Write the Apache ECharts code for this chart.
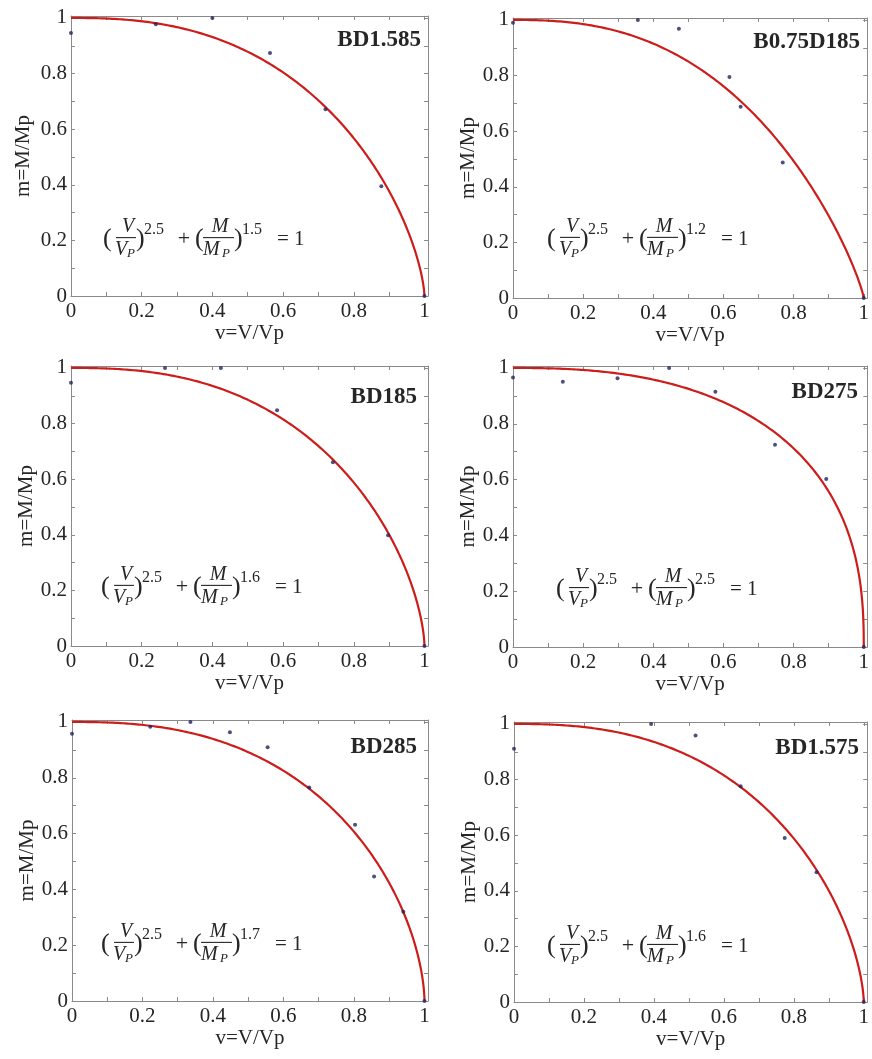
<!DOCTYPE html>
<html>
<head>
<meta charset="utf-8">
<script src="https://cdn.jsdelivr.net/npm/echarts@6/dist/echarts.min.js"></script>
<style>
  html, body { margin: 0; padding: 0; background: #ffffff; }
  #chart { width: 872px; height: 1059px; }
</style>
</head>
<body>
<div id="chart"></div>
<script>
// ---- Data ---------------------------------------------------------------
const panelTitles = ['BD1.585', 'B0.75D185', 'BD185', 'BD275', 'BD285', 'BD1.575'];

// Interaction equation (V/Vp)^a + (M/Mp)^b = 1, exponents as printed in each panel
const vExponents = [2.5, 2.5, 2.5, 2.5, 2.5, 2.5];
const mExponents = [1.5, 1.2, 1.6, 2.5, 1.7, 1.6];

// Test points (v = V/Vp, m = M/Mp)
const vTestBD1585 = [0, 0.24, 0.40, 0.563, 0.72, 0.878, 1.0];
const mTestBD1585 = [0.946, 0.977, 1.0, 0.874, 0.672, 0.395, 0];

const vTestB075D185 = [0, 0.356, 0.473, 0.617, 0.649, 0.769, 1.0];
const mTestB075D185 = [0.99, 1.0, 0.968, 0.795, 0.688, 0.487, 0];

const vTestBD185 = [0, 0.266, 0.424, 0.583, 0.741, 0.897, 1.0];
const mTestBD185 = [0.947, 1.0, 1.0, 0.848, 0.661, 0.398, 0];

const vTestBD275 = [0, 0.142, 0.298, 0.445, 0.577, 0.747, 0.893, 1.0];
const mTestBD275 = [0.966, 0.951, 0.963, 1.0, 0.915, 0.725, 0.602, 0];

const vTestBD285 = [0, 0.222, 0.336, 0.448, 0.555, 0.673, 0.803, 0.857, 0.940, 1.0];
const mTestBD285 = [0.958, 0.983, 1.0, 0.963, 0.909, 0.765, 0.632, 0.446, 0.320, 0];

const vTestBD1575 = [0, 0.392, 0.519, 0.648, 0.774, 0.865, 1.0];
const mTestBD1575 = [0.911, 1.0, 0.958, 0.776, 0.590, 0.467, 0];

const vTests = [vTestBD1585, vTestB075D185, vTestBD185, vTestBD275, vTestBD285, vTestBD1575];
const mTests = [mTestBD1585, mTestB075D185, mTestBD185, mTestBD275, mTestBD285, mTestBD1575];

const xTickLabels = ['0', '0.2', '0.4', '0.6', '0.8', '1'];
const yTickLabels = ['0', '0.2', '0.4', '0.6', '0.8', '1'];

const xAxisName = 'v=V/Vp';
const yAxisName = 'm=M/Mp';

// ---- Layout & style -----------------------------------------------------
const XMAX = 1.01;
const YMAX = 1.007;
const frameColor = '#8a8a8a';
const ink = '#262626';
const serif = 'Liberation Serif';

const grids = [
  { left: 71,  top: 16,  width: 357, height: 280 },
  { left: 513, top: 18,  width: 356, height: 280 },
  { left: 71,  top: 366, width: 357, height: 280 },
  { left: 513, top: 366, width: 356, height: 281 },
  { left: 72,  top: 720, width: 356, height: 281 },
  { left: 514, top: 722, width: 355, height: 280 }
];
const yNameGaps = [37, 32, 31, 32, 33, 32];
const xNameGaps = [26, 24.5, 25, 24, 26, 25];
const titleInsetRight = [7, 9, 11, 11, 11, 10];
const titleOffsetTop = [24, 24, 31, 26, 27, 26];
const formulaOffsetLeft = [33, 35, 31, 44, 30, 34];
const formulaLevel = [0.21, 0.218, 0.218, 0.213, 0.21, 0.207];

// ---- Helpers ------------------------------------------------------------
function tickFormatter(labels) {
  return function (val) {
    const k = Math.round(val / 0.2);
    if (k >= 0 && k < labels.length && Math.abs(val - k * 0.2) < 1e-6) return labels[k];
    return '';
  };
}

// Curve traced from the printed equation: v^a + m^b = 1
function interactionCurve(a, b) {
  const pts = [];
  const N = 600;
  for (let k = 0; k <= N; k++) {
    const t = (k / N) * Math.PI / 2;
    const c = Math.max(Math.cos(t), 0), s = Math.max(Math.sin(t), 0);
    pts.push([Math.pow(c * c, 1 / a), Math.pow(s * s, 1 / b)]);
  }
  return pts;
}

function txt(s, x, y, size, opt) {
  opt = opt || {};
  const font = (opt.italic ? 'italic ' : '') + (opt.bold ? 'bold ' : '') + size + 'px "' + serif + '"';
  return {
    type: 'text', silent: true, z: 10,
    style: {
      text: s, x: x, y: y, fill: ink, font: font,
      textAlign: opt.align || 'left', align: opt.align || 'left',
      textVerticalAlign: 'middle', verticalAlign: 'middle'
    }
  };
}
function bar(x1, x2, y) {
  return {
    type: 'line', silent: true, z: 10,
    shape: { x1: x1, y1: y, x2: x2, y2: y },
    style: { stroke: ink, lineWidth: 1.1 }
  };
}

function formula(ox, oy, aExp, bExp) {
  return [
    txt('(', ox - 1, oy + 2, 26),
    bar(ox + 12, ox + 32, oy),
    txt('V', ox + 24, oy - 11, 20, { italic: true, align: 'center' }),
    txt('V', ox + 11, oy + 12, 20, { italic: true }),
    txt('P', ox + 23, oy + 16, 13, { italic: true }),
    txt(')', ox + 32, oy + 2, 26),
    txt(String(aExp), ox + 40, oy - 8, 16),
    txt('+', ox + 80, oy + 2, 22, { align: 'center' }),
    txt('(', ox + 91, oy + 2, 26),
    bar(ox + 99, ox + 130, oy),
    txt('M', ox + 116, oy - 11, 20, { italic: true, align: 'center' }),
    txt('M', ox + 99, oy + 12, 20, { italic: true }),
    txt('P', ox + 118, oy + 16, 13, { italic: true }),
    txt(')', ox + 130, oy + 2, 26),
    txt(String(bExp), ox + 138, oy - 8, 16),
    txt('= 1', ox + 173, oy + 2, 21)
  ];
}

// ---- Build option -------------------------------------------------------
const option = {
  animation: false,
  backgroundColor: '#ffffff',
  grid: [], xAxis: [], yAxis: [], series: [], graphic: []
};

const tickCfg = { show: true, inside: true, length: 4, lineStyle: { color: frameColor, width: 1 } };
const lineCfg = { show: true, onZero: false, lineStyle: { color: frameColor, width: 1 } };
const labelFont = { fontFamily: serif, fontSize: 21, color: ink };

grids.forEach(function (g, i) {
  option.grid.push({ left: g.left, top: g.top, width: g.width, height: g.height, containLabel: false, show: false });

  const baseX = { type: 'value', gridIndex: i, min: 0, max: XMAX, interval: 0.1,
    splitLine: { show: false }, axisLine: lineCfg, axisTick: tickCfg };
  const baseY = { type: 'value', gridIndex: i, min: 0, max: YMAX, interval: 0.1,
    splitLine: { show: false }, axisLine: lineCfg, axisTick: tickCfg };

  option.xAxis.push(Object.assign({}, baseX, {
    position: 'bottom',
    name: xAxisName, nameLocation: 'middle', nameGap: xNameGaps[i],
    nameTextStyle: labelFont,
    axisLabel: Object.assign({ show: true, margin: 5, formatter: tickFormatter(xTickLabels),
      showMinLabel: true, showMaxLabel: true }, labelFont)
  }));
  option.xAxis.push(Object.assign({}, baseX, { position: 'top', axisLabel: { show: false } }));

  option.yAxis.push(Object.assign({}, baseY, {
    position: 'left',
    name: yAxisName, nameLocation: 'middle', nameGap: yNameGaps[i],
    nameTextStyle: labelFont,
    axisLabel: Object.assign({ show: true, margin: 4, formatter: tickFormatter(yTickLabels),
      showMinLabel: true, showMaxLabel: true }, labelFont)
  }));
  option.yAxis.push(Object.assign({}, baseY, { position: 'right', axisLabel: { show: false } }));

  option.series.push({
    type: 'line', xAxisIndex: 2 * i, yAxisIndex: 2 * i,
    data: interactionCurve(vExponents[i], mExponents[i]),
    showSymbol: false, smooth: false, z: 2, silent: true,
    lineStyle: { color: '#cc1d1a', width: 2.2 }
  });
  option.series.push({
    type: 'scatter', xAxisIndex: 2 * i, yAxisIndex: 2 * i,
    data: vTests[i].map(function (v, k) { return [v, mTests[i][k]]; }),
    symbol: 'circle', symbolSize: 4, z: 3, silent: true,
    itemStyle: { color: '#23235e' }
  });

  // panel label, top-right inside the frame
  option.graphic.push(txt(panelTitles[i], g.left + g.width - titleInsetRight[i], g.top + titleOffsetTop[i], 23,
    { bold: true, align: 'right' }));

  // printed interaction equation
  const ox = g.left + formulaOffsetLeft[i];
  const oy = g.top + g.height * (1 - formulaLevel[i] / YMAX);
  formula(ox, oy, vExponents[i], mExponents[i]).forEach(function (el) { option.graphic.push(el); });
});

const chart = echarts.init(document.getElementById('chart'), null, { renderer: 'canvas' });
chart.setOption(option);
</script>
</body>
</html>
